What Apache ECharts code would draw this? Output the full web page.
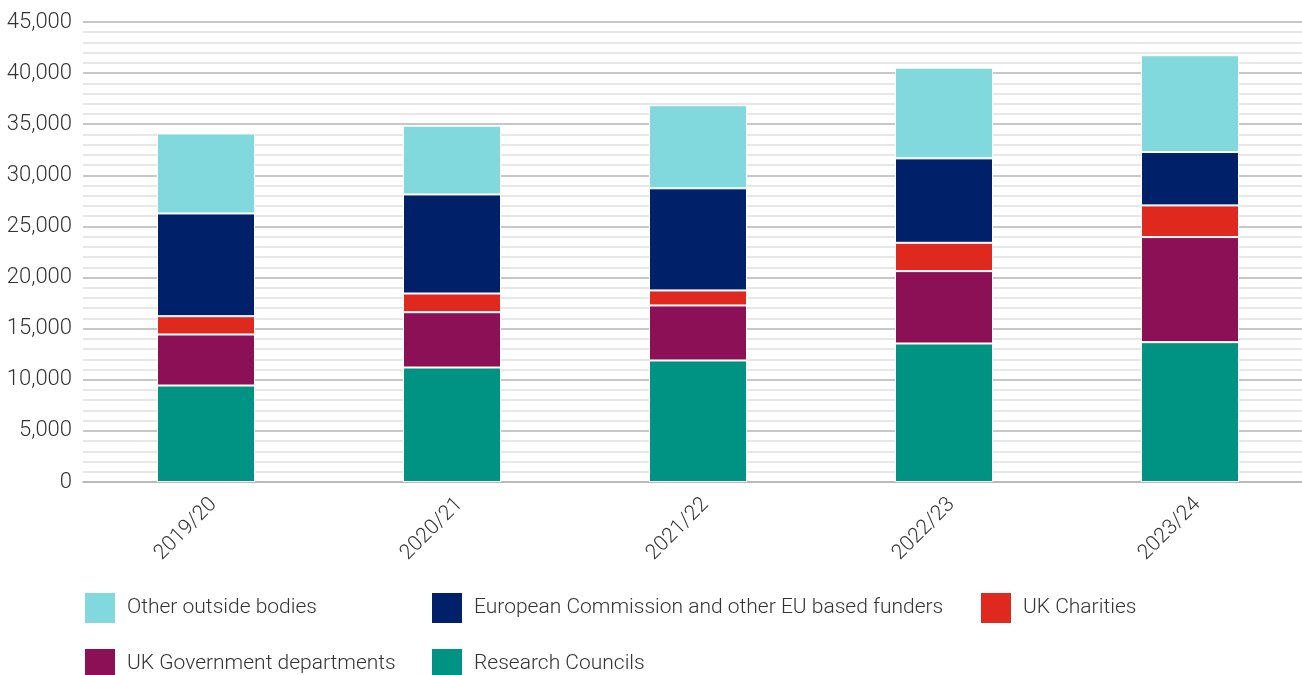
<!DOCTYPE html>
<html>
<head>
<meta charset="utf-8">
<script src="https://cdn.jsdelivr.net/npm/echarts@6/dist/echarts.min.js"></script>
<style>
  html, body { margin: 0; padding: 0; background: #fff; overflow: hidden; }
  /* the plot area runs a little past the right edge of the window */
  #chart { width: 1313px; height: 675px; }
</style>
</head>
<body>
<div id="chart"></div>
<script>
// Research income by funder type (£000)
const years = ['2019/20', '2020/21', '2021/22', '2022/23', '2023/24'];
const researchCouncils = [9440, 11200, 11890, 13550, 13680];
const ukGovernment = [4990, 5410, 5380, 7080, 10280];
const ukCharities = [1790, 1830, 1470, 2770, 3100];
const europeanCommission = [10050, 9690, 9990, 8260, 5220];
const otherBodies = [7830, 6720, 8130, 8870, 9470];
const yTicks = [0, 5000, 10000, 15000, 20000, 25000, 30000, 35000, 40000, 45000];

const FONT = 'Roboto';
const TEXT = '#333333';

const seriesDefs = [
  { name: 'Research Councils', data: researchCouncils, color: '#009383' },
  { name: 'UK Government departments', data: ukGovernment, color: '#8b1056' },
  { name: 'UK Charities', data: ukCharities, color: '#e0291e' },
  { name: 'European Commission and other EU based funders', data: europeanCommission, color: '#002169' },
  { name: 'Other outside bodies', data: otherBodies, color: '#82d9dd' }
];

// Legend entries laid out in two rows
const legendSlots = [
  { name: 'Other outside bodies', left: 83, top: 591 },
  { name: 'European Commission and other EU based funders', left: 430, top: 591 },
  { name: 'UK Charities', left: 979, top: 591 },
  { name: 'UK Government departments', left: 83, top: 647 },
  { name: 'Research Councils', left: 430, top: 647 }
];

const chart = echarts.init(document.getElementById('chart'), null, { renderer: 'canvas' });

chart.setOption({
  animation: false,
  backgroundColor: '#ffffff',
  textStyle: { fontFamily: FONT },
  grid: { left: 83, right: 0, top: 22, bottom: 193 },
  legend: legendSlots.map(s => ({
    data: [s.name],
    left: s.left,
    top: s.top,
    orient: 'horizontal',
    padding: 0,
    itemWidth: 32,
    itemHeight: 32,
    icon: 'rect',
    selectedMode: false,
    textStyle: { fontFamily: FONT, fontSize: 21, fontWeight: 300, color: TEXT, padding: [0, 0, 0, 6] }
  })),
  xAxis: {
    type: 'category',
    data: years,
    axisLine: { show: true, lineStyle: { color: '#b5b5b5', width: 1.5 } },
    axisTick: { show: false },
    axisLabel: {
      rotate: 45,
      margin: 12,
      align: 'right',
      verticalAlign: 'top',
      fontFamily: FONT,
      fontSize: 21,
      fontWeight: 300,
      color: TEXT
    }
  },
  yAxis: {
    type: 'value',
    min: yTicks[0],
    max: yTicks[yTicks.length - 1],
    interval: yTicks[1] - yTicks[0],
    axisLine: { show: false },
    axisTick: { show: false },
    axisLabel: {
      margin: 11,
      fontFamily: FONT,
      fontSize: 22,
      fontWeight: 300,
      color: TEXT,
      formatter: v => v.toLocaleString('en-GB')
    },
    splitLine: { show: true, lineStyle: { color: '#b5b5b5', width: 1.5 } },
    minorTick: { show: false, splitNumber: 5 },
    minorSplitLine: { show: true, lineStyle: { color: '#e0e0e0', width: 1.5 } }
  },
  series: seriesDefs.map(s => ({
    name: s.name,
    type: 'bar',
    stack: 'income',
    barWidth: 98,
    data: s.data,
    itemStyle: { color: s.color, borderColor: '#ffffff', borderWidth: 1 },
    emphasis: { disabled: true }
  }))
});
</script>
</body>
</html>
